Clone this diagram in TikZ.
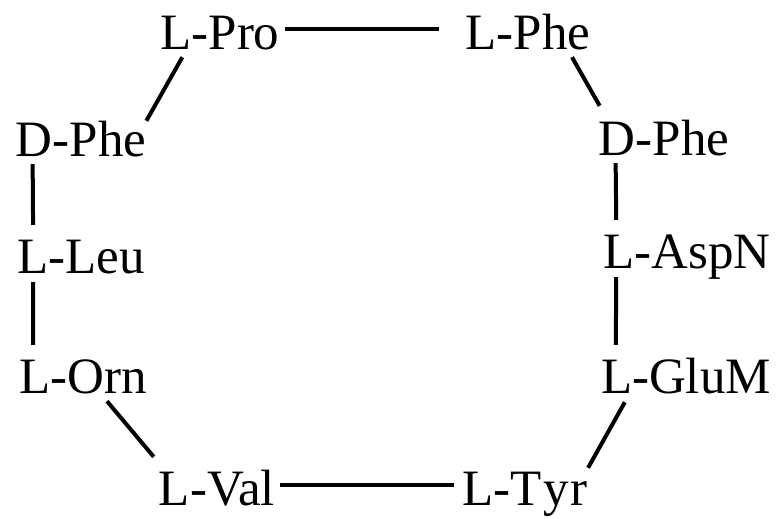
\documentclass[tikz,border=0pt]{standalone}
\usepackage{fontspec}
\setmainfont{Liberation Serif}
\usepackage{tikz}
\usetikzlibrary{positioning}

\begin{document}
\begin{tikzpicture}[
    x=1pt, y=-1pt,
    res/.style={inner sep=0pt, anchor=base, text height=40pt, text depth=0pt, font=\fontsize{51}{60}\selectfont},
    bond/.style={line width=4pt}
]
\useasboundingbox (0,0) rectangle (784,519);

% ring of residues
\node[res] (pro) at (220,49) {L-Pro};
\node[res] (phe) at (528,49) {L-Phe};
\node[res] (dphel) at (81,156) {D-Phe};
\node[res] (dpher) at (664,155) {D-Phe};
\node[res] (leu) at (81,273) {L-Leu};
\node[res] (aspn) at (687,268) {L-AspN};
\node[res] (orn) at (83,393) {L-Orn};
\node[res] (glum) at (686,393) {L-GluM};
\node[res] (val) at (217,505) {L-Val};
\node[res] (tyr) at (525,505) {L-T\kern2pt y\kern2pt r};

% bonds
\draw[bond, shorten <=5pt, shorten >=26pt] (pro.east) -- (phe.west);
\draw[bond] ([shift={(22,8)}]pro.south west) -- ([shift={(0,5)}]dphel.north east);
\draw[bond] ([shift={(44,8)}]phe.south) -- ([shift={(1,-9)}]dpher.north west);
\draw[bond] ([shift={(17,8)}]dphel.south west) -- ([shift={(16,-8)}]leu.north west);
\draw[bond] ([shift={(16,9)}]leu.south west) -- ([shift={(14,-8)}]orn.north west);
\draw[bond] ([shift={(17,8)}]dpher.south west) -- ([shift={(13,-8)}]aspn.north west);
\draw[bond] ([shift={(13,9)}]aspn.south west) -- ([shift={(15,-8)}]glum.north west);
\draw[bond] ([shift={(24,8)}]orn.south) -- ([shift={(-5,-8)}]val.north west);
\draw[bond] ([shift={(24,9)}]glum.south west) -- ([shift={(0,3)}]tyr.north east);
\draw[bond, shorten <=5pt, shorten >=8pt] (val.east) -- (tyr.west);
\end{tikzpicture}
\end{document}
